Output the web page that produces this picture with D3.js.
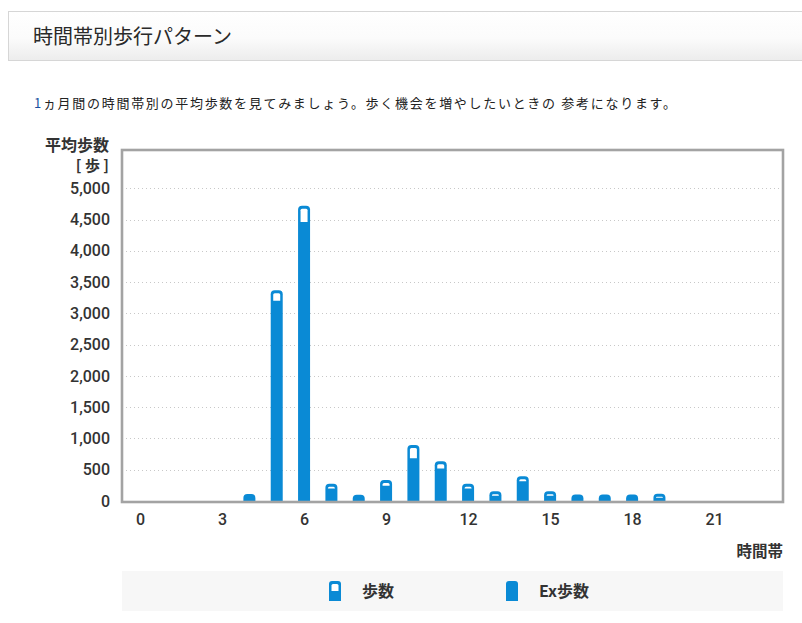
<!DOCTYPE html>
<html>
<head>
<meta charset="utf-8">
<script src="https://cdn.jsdelivr.net/npm/d3@7"></script>
<style>
  body { margin: 0; background: #fff; }
  svg { display: block; }
</style>
</head>
<body>
<script>
// hourly average steps (1 month)
var hours = d3.range(0, 24);
var totalSteps = [0, 0, 0, 0, 110, 3370, 4720, 275, 100, 335, 895, 635, 275, 155, 395, 155, 105, 105, 105, 115, 0, 0, 0, 0];
var exSteps    = [0, 0, 0, 0, 100, 3200, 4460, 200,  90, 245, 685, 520, 200,  85, 315,  85,  95,  95,  95,  50, 0, 0, 0, 0];
var yTicks = [0, 500, 1000, 1500, 2000, 2500, 3000, 3500, 4000, 4500, 5000];
var xTicks = [0, 3, 6, 9, 12, 15, 18, 21];

var W = 802, H = 623;
var blue = '#0a8ad5';
var grey = '#a3a3a3';
var plot = { left: 122, right: 783, top: 150, bottom: 501 };

var svg = d3.select('body')
    .append('svg')
    .attr('width', W)
    .attr('height', H);

// header box
var grad = svg.append('defs').append('linearGradient')
    .attr('id', 'hdr').attr('x1', 0).attr('y1', 0).attr('x2', 0).attr('y2', 1);
grad.append('stop').attr('offset', '0%').attr('stop-color', '#ffffff');
grad.append('stop').attr('offset', '55%').attr('stop-color', '#fbfbfb');
grad.append('stop').attr('offset', '100%').attr('stop-color', '#ececec');

svg.append('rect')
    .attr('x', 8.5).attr('y', 11.5)
    .attr('width', 800).attr('height', 49)
    .attr('fill', 'url(#hdr)')
    .attr('stroke', '#d6d6d6');

svg.append('text')
    .attr('x', 33).attr('y', 44)
    .attr('font-family', '"Noto Sans CJK JP", sans-serif')
    .attr('font-size', '20px')
    .attr('fill', '#2a2a2a')
    .text('時間帯別歩行パターン');

// lead text
var lead = svg.append('text')
    .attr('x', 34).attr('y', 108)
    .attr('font-family', '"Noto Sans CJK JP", sans-serif')
    .attr('font-size', '13px')
    .attr('fill', '#222')
    .attr('textLength', 642)
    .attr('lengthAdjust', 'spacing');
lead.append('tspan').attr('fill', '#1a4fa0').text('1');
lead.append('tspan').text('ヵ月間の時間帯別の平均歩数を見てみましょう。歩く機会を増やしたいときの 参考になります。');

// scales
var x = d3.scaleLinear().domain([-0.66, 23.52]).range([plot.left, plot.right]);
var y = d3.scaleLinear().domain([0, 5000]).range([plot.bottom, 188.3]);

// grid lines
svg.append('g')
    .selectAll('line')
    .data(yTicks.filter(function(d){ return d > 0; }))
    .enter()
    .append('line')
    .attr('x1', plot.left).attr('x2', plot.right)
    .attr('y1', function(d){ return Math.round(y(d)) + 0.5; })
    .attr('y2', function(d){ return Math.round(y(d)) + 0.5; })
    .attr('stroke', '#c8c8c8')
    .attr('stroke-dasharray', '1,3');

// bars: rounded top
var bw = 12;
function topRounded(x0, y0, w, h, r) {
    r = Math.min(r, h, w / 2);
    return 'M' + x0 + ',' + (y0 + h) +
        'V' + (y0 + r) +
        'Q' + x0 + ',' + y0 + ' ' + (x0 + r) + ',' + y0 +
        'H' + (x0 + w - r) +
        'Q' + (x0 + w) + ',' + y0 + ' ' + (x0 + w) + ',' + (y0 + r) +
        'V' + (y0 + h) + 'Z';
}

var bars = svg.append('g');
bars.selectAll('path.total')
    .data(hours.filter(function(h){ return totalSteps[h] > 0; }))
    .enter()
    .append('path')
    .attr('class', 'total')
    .attr('d', function(h){
        var top = y(totalSteps[h]);
        return topRounded(x(h) - bw / 2, top, bw, plot.bottom - top, 4);
    })
    .attr('fill', blue);

// white inside for the part above Ex steps
bars.selectAll('path.inner')
    .data(hours.filter(function(h){ return y(exSteps[h]) - (y(totalSteps[h]) + 3) > 0.3; }))
    .enter()
    .append('path')
    .attr('class', 'inner')
    .attr('d', function(h){
        var top = y(totalSteps[h]) + 3;
        return topRounded(x(h) - bw / 2 + 2.5, top, bw - 5, y(exSteps[h]) - top, 1.5);
    })
    .attr('fill', '#fff');

// frame
svg.append('rect')
    .attr('x', plot.left).attr('y', plot.top)
    .attr('width', plot.right - plot.left)
    .attr('height', plot.bottom + 1 - plot.top)
    .attr('fill', 'none')
    .attr('stroke', grey)
    .attr('stroke-width', 2.6);

// y axis labels
var yAxis = d3.axisLeft(y)
    .tickValues(yTicks)
    .tickFormat(d3.format(','))
    .tickSize(0)
    .tickPadding(0);
var gy = svg.append('g')
    .attr('transform', 'translate(110,0)')
    .call(yAxis);
gy.select('.domain').remove();
gy.selectAll('text')
    .attr('font-family', 'Roboto, sans-serif')
    .attr('font-weight', 500)
    .attr('font-size', '16px')
    .attr('fill', '#333');

// x axis labels
var xAxis = d3.axisBottom(x)
    .tickValues(xTicks)
    .tickFormat(d3.format('d'))
    .tickSize(0)
    .tickPadding(0);
var gx = svg.append('g')
    .attr('transform', 'translate(0,514)')
    .call(xAxis);
gx.select('.domain').remove();
gx.selectAll('text')
    .attr('font-family', 'Roboto, sans-serif')
    .attr('font-weight', 500)
    .attr('font-size', '16px')
    .attr('fill', '#333');

// axis titles
var titleFont = '"Noto Sans CJK JP", sans-serif';
svg.append('text')
    .attr('x', 109).attr('y', 151)
    .attr('text-anchor', 'end')
    .attr('font-family', titleFont)
    .attr('font-weight', 700)
    .attr('font-size', '16px')
    .attr('fill', '#333')
    .text('平均歩数');
svg.append('text')
    .attr('x', 109).attr('y', 171)
    .attr('text-anchor', 'end')
    .attr('font-family', titleFont)
    .attr('font-weight', 700)
    .attr('font-size', '15px')
    .attr('fill', '#333')
    .text('[ 歩 ]');
svg.append('text')
    .attr('x', 783).attr('y', 557)
    .attr('text-anchor', 'end')
    .attr('font-family', titleFont)
    .attr('font-weight', 700)
    .attr('font-size', '15.5px')
    .attr('fill', '#333')
    .text('時間帯');

// legend
svg.append('rect')
    .attr('x', 122).attr('y', 571)
    .attr('width', 661).attr('height', 40)
    .attr('fill', '#f7f7f7');

var legendItems = ['歩数', 'Ex歩数'];
var legendX = [329, 506];
var lg = svg.append('g').selectAll('g')
    .data(legendItems)
    .enter()
    .append('g')
    .attr('transform', function(d, i){ return 'translate(' + legendX[i] + ',581)'; });
lg.append('path')
    .attr('d', topRounded(0, 0, 12, 20, 3))
    .attr('fill', blue);
lg.filter(function(d, i){ return i === 0; })
    .append('path')
    .attr('d', topRounded(2.5, 3, 7, 7, 1.5))
    .attr('fill', '#fff');
lg.append('text')
    .attr('x', 33).attr('y', 16)
    .attr('font-family', titleFont)
    .attr('font-weight', 700)
    .attr('font-size', '16px')
    .attr('fill', '#333')
    .text(function(d){ return d; });
</script>
</body>
</html>
